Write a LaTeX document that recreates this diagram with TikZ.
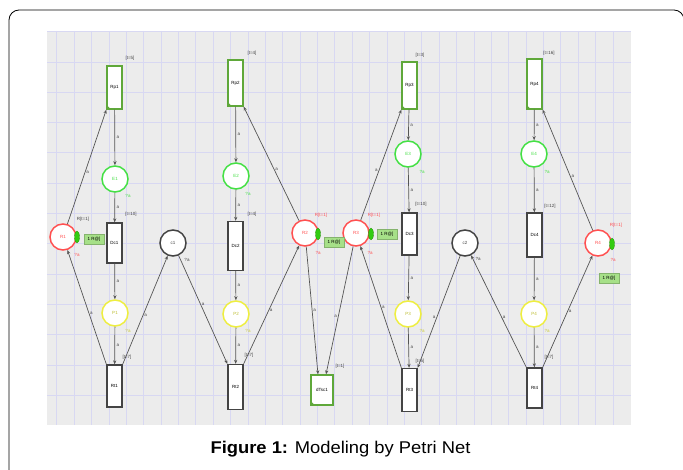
\documentclass[tikz,border=0pt]{standalone}
\usepackage{fontspec}
\setmainfont{Liberation Sans}
\usetikzlibrary{arrows.meta,shapes.geometric}
\definecolor{bgc}{HTML}{ECECEC}
\definecolor{gridc}{HTML}{D8D8F2}
\definecolor{pgreen}{HTML}{44E044}
\definecolor{pyellow}{HTML}{EEEE40}
\definecolor{pred}{HTML}{FF5050}
\definecolor{tgray}{HTML}{444444}
\definecolor{tgreen}{HTML}{5FA83A}
\definecolor{boxg}{HTML}{A6E088}
\definecolor{tokg}{HTML}{33CC11}
\definecolor{arcc}{HTML}{555555}
\begin{document}
\begin{tikzpicture}[x=1pt,y=-1pt,
  tiny/.style={font=\fontsize{4.5}{5}\selectfont, inner sep=0.5pt},
  trans/.style={rectangle, draw=tgray, fill=white, line width=1.3pt, minimum width=15pt, inner sep=0pt, tiny},
  transg/.style={trans, draw=tgreen},
  place/.style={circle, fill=white, line width=1.5pt, minimum size=26pt, inner sep=0pt, tiny},
  gpl/.style={place, draw=pgreen, text=pgreen},
  ypl/.style={place, draw=pyellow, text=pyellow!80!black},
  rpl/.style={place, draw=pred, text=pred},
  kpl/.style={place, draw=tgray, text=tgray},
  tok/.style={ellipse, fill=tokg, draw=tokg!70!black, line width=0.3pt, minimum width=5pt, minimum height=12pt, inner sep=0pt},
  gbox/.style={rectangle, fill=boxg, draw=boxg!80!black, line width=0.3pt, minimum width=20pt, minimum height=10pt, tiny},
  lab/.style={tiny, text=tgray},
  rlab/.style={tiny, text=pred},
  glab/.style={tiny, text=pgreen},
  ylab/.style={tiny, text=pyellow!85!black},
  arc/.style={draw=arcc, line width=0.7pt, -{Stealth[length=4pt,width=3.2pt]}},
  al/.style={tiny, text=tgray}
]
\useasboundingbox (0,0) rectangle (683,470);
\fill[white] (0,0) rectangle (683,470);
% outer frame
\draw[black, line width=0.8pt] (9,472) -- (9,20) arc[start angle=180, end angle=270, radius=10] -- (674,10) arc[start angle=270, end angle=360, radius=10] -- (684,472);
% panel
\fill[bgc] (47,31) rectangle (631,425);
\foreach \i in {0,...,32} \draw[gridc, line width=0.6pt] ({56.7+17.38*\i},31) -- ({56.7+17.38*\i},425);
\foreach \j in {0,...,11} \draw[gridc, line width=0.8pt] (47,{62+30.3*\j}) -- (631,{62+30.3*\j});
\draw[gridc, line width=1pt] (47,31.5) -- (631,31.5);

% ---------- column 1
\node[transg, minimum height=43pt] (Rp1) at (114.5,87.5) {Rp1};
\node[gpl] (E1) at (115,179) {E1};
\node[trans, minimum height=40pt] (Dc1) at (114.5,243) {Dc1};
\node[ypl] (P1) at (115,313) {P1};
\node[trans, minimum height=42pt] (Rt1) at (114.5,386) {Rt1};
\node[rpl] (R1) at (63,237) {R1};
\node[kpl] (c1) at (173,243) {c1};
% ---------- column 2
\node[transg, minimum height=46pt] (Rp2) at (235.5,83) {Rp2};
\node[gpl] (E2) at (236,176) {E2};
\node[trans, minimum height=49pt] (Dc2) at (235.5,246) {Dc2};
\node[ypl] (P2) at (236,314) {P2};
\node[trans, minimum height=45pt] (Rt2) at (235.5,387) {Rt2};
\node[rpl] (R2) at (305,233) {R2};
\node[rpl] (R3) at (356,233) {R3};
\node[transg, minimum width=22pt, minimum height=30pt] (Ts) at (322,390) {dTsc1};
% ---------- column 3
\node[transg, minimum height=47pt] (Rp3) at (409.5,85.5) {Rp3};
\node[gpl] (E3) at (408,154) {E3};
\node[trans, minimum height=42pt] (Dc3) at (409.5,234) {Dc3};
\node[ypl] (P3) at (408,314) {P3};
\node[trans, minimum height=43pt] (Rt3) at (409.5,390) {Rt3};
\node[kpl] (c2) at (465,243) {c2};
% ---------- column 4
\node[transg, minimum height=50pt] (Rp4) at (534.5,84) {Rp4};
\node[gpl] (E4) at (534,154) {E4};
\node[trans, minimum height=44pt] (Dc4) at (534.5,235) {Dc4};
\node[ypl] (P4) at (534,314) {P4};
\node[trans, minimum height=40pt] (Rt4) at (534.5,388) {Rt4};
\node[rpl] (R4) at (598,243) {R4};

% green corner marks of enabled transitions
\foreach \t in {Rp1,Rp2,Rp3,Rp4,Ts}
  \fill[tgreen] (\t.south west) -- ++(5,0) -- ++(-5,-5) -- cycle;

% tokens and marking boxes
\node[tok] (k1) at (77,237) {};
\node[tok] (k2) at (318,234) {};
\node[tok] (k3) at (371,234) {};
\node[tok] (k4) at (612,244) {};
\node[gbox] (b1) at (94,239) {1 R@]};
\node[gbox] (b2) at (334,242) {1 R@]};
\node[gbox] (b3) at (387,234) {1 R@]};
\node[gbox] (b4) at (609,278) {1 R@]};

% place labels
\node[lab] (lr1) at (83,219) {R[t=1]};
\node[rlab] (lr2) at (321,215) {R[t=1]};
\node[rlab] (lr3) at (374,215) {R[t=1]};
\node[rlab] (lr4) at (616,225) {R[t=1]};
\node[rlab] (qr1) at (77,255) {?a};
\node[rlab] (qr2) at (318,253) {?a};
\node[rlab] (qr3) at (370,253) {?a};
\node[rlab] (qr4) at (613,260) {?a};
\node[glab] (qe1) at (128,196) {?a};
\node[glab] (qe2) at (248,194) {?a};
\node[glab] (qe3) at (422,172) {?a};
\node[glab] (qe4) at (547,172) {?a};
\node[ylab] (qp1) at (128,331) {?a};
\node[ylab] (qp2) at (248,331) {?a};
\node[ylab] (qp3) at (422,331) {?a};
\node[ylab] (qp4) at (547,331) {?a};
\node[lab] (qc1) at (187,260) {?a};
\node[lab] (qc2) at (478,259) {?a};

% transition time labels
\node[lab] (tRp1) at (130,58) {[t=5]};
\node[lab] (tDc1) at (131,214) {[t=10]};
\node[lab] (tRt1) at (127,357) {[t=7]};
\node[lab] (tRp2) at (252,53) {[t=4]};
\node[lab] (tDc2) at (252,214) {[t=4]};
\node[lab] (tRt2) at (249,355) {[t=7]};
\node[lab] (tTs) at (340,366) {[t=1]};
\node[lab] (tRp3) at (420,55) {[t=3]};
\node[lab] (tDc3) at (421,204) {[t=10]};
\node[lab] (tRt3) at (420,361) {[t=5]};
\node[lab] (tRp4) at (549,53) {[t=16]};
\node[lab] (tDc4) at (550,206) {[t=12]};
\node[lab] (tRt4) at (549,357) {[t=7]};

% vertical chains
\foreach \c in {1,2,3,4} {
  \draw[arc] (Rp\c) -- node[al, right=1pt] {a} (E\c);
  \draw[arc] (E\c) -- node[al, right=1pt] {a} (Dc\c);
  \draw[arc] (Dc\c) -- node[al, right=1pt] {a} (P\c);
  \draw[arc] (P\c) -- node[al, right=1pt] {a} (Rt\c);
}
% resource and coupling arcs
\draw[arc] (R1) -- node[al, pos=.45, right=0.5pt] {a} (Rp1.south west);
\draw[arc] (Rt1.north west) -- node[al, pos=.45, right=0.5pt] {a} (R1);
\draw[arc] (Rt1.north east) -- node[al, pos=.45, right=0.5pt] {a} (c1);
\draw[arc] (c1) -- node[al, pos=.45, right=0.5pt] {a} (Rt2.north west);
\draw[arc] (R2) -- node[al, pos=.45, right=0.5pt] {a} (Rp2.south east);
\draw[arc] (Rt2.north east) -- node[al, pos=.45, right=0.5pt] {a} (R2);
\draw[arc] (R2) -- node[al, pos=.5, right=0.5pt] {a} ([xshift=-4pt]Ts.north);
\draw[arc] (R3) -- node[al, pos=.55, left=0.5pt] {a} ([xshift=4pt]Ts.north);
\draw[arc] (R3) -- node[al, pos=.45, left=0.5pt] {a} (Rp3.south west);
\draw[arc] (Rt3.north west) -- node[al, pos=.5, right=0.5pt] {a} (R3);
\draw[arc] (c2) -- node[al, pos=.55, left=0.5pt] {a} (Rt3.north east);
\draw[arc] (Rt4.north west) -- node[al, pos=.45, right=0.5pt] {a} (c2);
\draw[arc] (R4) -- node[al, pos=.45, right=0.5pt] {a} (Rp4.south east);
\draw[arc] (Rt4.north east) -- node[al, pos=.5, right=0.5pt] {a} (R4);

% caption
\node[anchor=base, inner sep=0pt, xscale=1.08, font=\fontsize{17}{19}\selectfont] (cap) at (340.5,453) {\textbf{Figure 1:} Modeling by Petri Net};
\end{tikzpicture}
\end{document}
